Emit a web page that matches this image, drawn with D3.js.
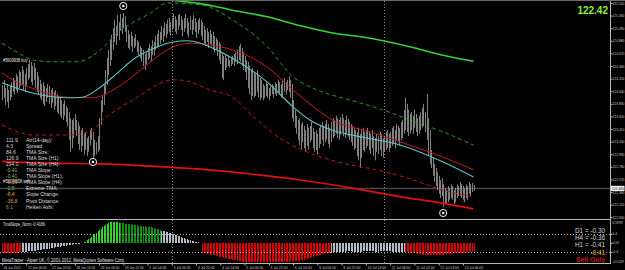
<!DOCTYPE html>
<html>
<head>
<meta charset="utf-8">
<script src="https://cdn.jsdelivr.net/npm/d3@7"></script>
<style>
html, body { margin: 0; padding: 0; background: #000; }
svg { display: block; }
text { font-family: "Liberation Sans", Arial, sans-serif; }
</style>
</head>
<body>
<svg id="chart" width="625" height="270"></svg>
<script>
"use strict"

// H1 bars, high / low per bar (26 Jun - 13 Jul 2012)
const barHigh = [
 124.14,124.23,124.09,124.16,124.06,124.13,124.19,124.26,124.23,124.33,
 124.29,124.39,124.36,124.46,124.39,124.33,124.43,124.49,124.56,124.53,
 124.46,124.51,124.43,124.36,124.29,124.23,124.16,124.19,124.13,124.09,
 124.16,124.13,124.06,124.09,124.03,124.06,123.99,123.96,123.93,123.89,
 123.83,123.89,123.79,123.76,123.69,123.59,123.56,123.59,123.66,123.56,
 123.53,123.46,123.39,123.43,123.33,123.36,123.26,123.29,123.39,123.43,
 123.36,123.23,123.19,123.29,123.59,123.89,123.98,124.14,124.39,124.59,
 124.73,124.89,124.98,125.09,125.23,125.13,125.31,125.19,125.33,125.26,
 125.34,125.29,125.14,125.06,124.99,125.03,124.96,124.93,124.99,124.89,
 124.86,124.79,124.76,124.73,124.66,124.69,124.76,124.83,124.79,124.89,
 124.86,124.96,124.99,125.06,125.03,125.13,125.09,125.19,125.16,125.23,
 125.26,125.19,125.26,125.33,125.29,125.23,125.31,125.33,125.29,125.23,
 125.26,125.33,125.26,125.19,125.29,125.23,125.31,125.26,125.19,125.23,
 125.26,125.23,125.19,125.13,125.06,125.09,125.03,125.06,124.99,125.03,
 124.96,124.93,124.89,124.86,124.83,124.69,124.63,124.66,124.59,124.63,
 124.56,124.59,124.63,124.66,124.69,124.73,124.79,124.83,124.76,124.69,
 124.63,124.56,124.53,124.46,124.39,124.43,124.36,124.33,124.39,124.29,
 124.26,124.23,124.16,124.13,124.19,124.16,124.09,124.13,124.16,124.13,
 124.19,124.16,124.23,124.19,124.16,124.23,124.26,124.19,124.23,124.29,
 124.23,124.16,123.89,123.73,123.63,123.56,123.59,123.49,123.53,123.46,
 123.39,123.49,123.43,123.46,123.53,123.43,123.36,123.39,123.33,123.43,
 123.46,123.53,123.46,123.49,123.56,123.49,123.43,123.53,123.59,123.56,
 123.63,123.59,123.56,123.61,123.66,123.59,123.56,123.63,123.58,123.53,
 123.49,123.46,123.43,123.39,123.36,123.43,123.33,123.39,123.43,123.36,
 123.39,123.43,123.36,123.33,123.39,123.29,123.26,123.33,123.29,123.36,
 123.33,123.26,123.29,123.36,123.39,123.33,123.36,123.43,123.46,123.39,
 123.49,123.46,123.43,123.53,123.56,123.73,123.93,123.83,123.73,123.66,
 123.69,123.63,123.73,123.66,123.59,123.63,123.69,123.76,123.83,123.69,
 123.99,123.59,123.39,123.06,122.93,122.83,122.76,122.69,122.63,122.56,
 122.59,122.49,122.43,122.39,122.46,122.43,122.49,122.46,122.39,122.43,
 122.49,122.46,122.53,122.49,122.46,122.43,122.49,122.46,122.53,122.49,
 122.51,122.48
]
const barLow = [
 123.89,123.93,123.81,123.86,123.76,123.89,123.94,124.03,123.98,124.06,
 124.01,124.09,124.13,124.16,124.06,124.03,124.13,124.23,124.26,124.19,
 124.14,124.23,124.09,124.03,123.98,123.93,123.89,123.83,123.79,123.86,
 123.93,123.83,123.76,123.84,123.73,123.79,123.69,123.66,123.63,123.59,
 123.56,123.63,123.53,123.46,123.23,123.03,123.09,123.26,123.39,123.29,
 123.16,123.06,123.03,123.13,122.98,123.06,122.96,123.03,123.14,123.23,
 122.93,122.96,122.99,123.03,123.06,123.48,123.69,123.81,123.98,124.14,
 124.31,124.46,124.56,124.73,124.86,124.81,124.96,124.89,125.06,124.99,
 125.09,125.03,124.86,124.76,124.73,124.79,124.69,124.76,124.79,124.69,
 124.64,124.59,124.53,124.46,124.39,124.49,124.56,124.59,124.53,124.64,
 124.63,124.73,124.76,124.79,124.83,124.89,124.86,124.96,124.93,124.99,
 125.03,124.96,125.06,125.09,125.03,124.99,125.06,125.13,125.06,124.96,
 125.03,125.09,124.99,124.94,125.06,124.98,125.06,125.03,124.93,124.99,
 125.06,124.96,124.89,124.83,124.79,124.86,124.76,124.83,124.79,124.73,
 124.69,124.73,124.63,124.56,124.49,124.26,124.23,124.39,124.43,124.46,
 124.43,124.46,124.49,124.46,124.53,124.49,124.56,124.53,124.46,124.39,
 124.36,124.23,124.09,123.99,123.89,123.96,123.93,123.96,124.03,123.93,
 123.89,123.93,123.89,123.93,123.96,123.93,123.89,123.96,123.99,123.93,
 123.99,123.96,124.03,123.99,123.93,123.96,124.03,123.98,124.06,124.03,
 123.93,123.59,123.53,123.43,123.33,123.23,123.14,123.06,123.19,123.09,
 123.03,123.13,123.06,123.19,123.23,123.09,123.03,123.06,122.98,123.09,
 123.16,123.23,123.13,123.19,123.23,123.16,123.09,123.19,123.26,123.29,
 123.33,123.26,123.23,123.31,123.36,123.29,123.26,123.33,123.28,123.23,
 123.19,123.13,123.06,123.09,122.96,122.89,122.76,122.93,123.06,123.03,
 123.09,123.13,123.06,122.99,123.09,122.96,122.89,123.03,122.99,123.06,
 122.96,122.93,123.03,123.06,123.09,123.03,123.09,123.13,123.16,123.09,
 123.23,123.19,123.13,123.23,123.26,123.33,123.39,123.36,123.29,123.33,
 123.39,123.33,123.43,123.36,123.29,123.33,123.39,123.43,123.46,123.36,
 123.23,122.96,122.83,122.76,122.63,122.53,122.46,122.39,122.33,122.26,
 122.29,122.11,122.16,122.16,122.19,122.23,122.26,122.23,122.16,122.19,
 122.26,122.29,122.29,122.26,122.23,122.19,122.26,122.23,122.33,122.29,
 122.36,122.38
]
const lastPrice = 122.42

// TMA bands, [bar index, price]
const upperH4 = [[100,125.66],[108,125.58],[118,125.54],[131,125.50],[152,125.39],[175,125.28],
  [197,125.13],[218,125.01],[241,124.93],[269,124.78],[291,124.64],[311,124.54]]
const lowerH4 = [[0,122.87],[32,122.84],[65,122.83],[98,122.79],[131,122.74],[164,122.66],
  [197,122.56],[230,122.43],[263,122.28],[289,122.18],[311,122.08]]
const upperH1 = [[0,124.84],[10,124.69],[20,124.56],[35,124.53],[49,124.53],[65,124.73],[76,125.01],
  [86,125.18],[98,125.34],[109,125.51],[131,125.48],[152,125.23],[175,124.78],[192,124.28],
  [208,124.06],[230,123.89],[251,123.73],[269,123.56],[291,123.36],[311,123.14]]
const midH1 = [[0,124.18],[20,124.01],[43,123.93],[53,123.94],[65,124.11],[76,124.34],[86,124.56],
  [98,124.73],[113,124.86],[122,124.88],[131,124.84],[137,124.78],[152,124.59],[175,124.19],
  [192,123.78],[203,123.56],[218,123.39],[241,123.26],[263,123.14],[291,122.86],[311,122.61]]
const midTma = [[0,124.34],[10,124.19],[20,124.09],[43,123.94],[60,123.93],[71,124.03],[86,124.28],
  [98,124.53],[113,124.78],[124,124.84],[137,124.81],[152,124.73],[175,124.44],[192,124.06],
  [208,123.73],[218,123.56],[243,123.36],[269,123.14],[291,122.94],[311,122.73]]
const lowerH1 = [[0,123.48],[20,123.31],[43,123.31],[60,123.39],[65,123.53],[75,123.72],[86,123.89],
  [113,124.23],[122,124.21],[137,124.06],[152,123.94],[166,123.61],[185,123.23],[203,123.01],
  [225,122.84],[247,122.73],[269,122.58],[291,122.39],[311,122.28]]

// fractal markers
const markerIdx = [80, 60, 291]
const markerPrice = [125.46, 122.86, 122.01]
const separatorIdx = [112, 252]

// TmaSlope_Norm histogram
const slope = [
 -0.44,-0.45,-0.46,-0.45,-0.46,-0.45,-0.44,-0.45,-0.44,-0.43,-0.43,-0.42,-0.42,
 -0.41,-0.40,-0.40,-0.39,-0.38,-0.37,-0.37,-0.36,-0.35,-0.34,-0.33,-0.32,-0.31,-0.30,-0.29,-0.28,
 -0.27,-0.26,-0.25,-0.24,-0.23,-0.22,-0.20,-0.19,-0.18,-0.17,-0.15,-0.14,-0.13,-0.12,-0.11,-0.10,
 -0.09,-0.08,-0.07,-0.06,-0.05,-0.04,-0.03,-0.02,-0.01,
 0.02,0.06,0.11,0.16,0.22,0.28,0.34,0.40,0.46,0.52,0.58,0.64,0.70,0.75,0.80,0.84,0.88,0.91,0.93,0.94,
 0.93,0.92,0.91,0.90,
 0.89,0.88,0.87,0.86,0.85,0.84,0.83,0.82,0.81,0.80,0.79,0.78,0.77,0.76,0.75,0.74,0.73,0.72,0.71,0.70,
 0.69,0.67,0.66,0.64,0.62,0.60,0.58,
 0.55,0.53,0.51,0.49,0.47,0.45,0.43,0.40,0.38,0.36,0.34,0.31,0.29,0.27,0.24,0.22,0.19,0.17,0.15,0.12,
 0.10,0.08,0.06,0.04,0.02,
 0.01,-0.02,
 -0.45,-0.46,-0.47,-0.49,-0.50,-0.52,-0.53,-0.55,-0.56,-0.58,-0.59,-0.61,-0.62,-0.64,-0.65,-0.67,
 -0.68,-0.70,-0.71,-0.73,-0.74,-0.76,-0.77,-0.79,-0.80,-0.82,-0.84,
 -0.85,-0.85,-0.86,-0.86,-0.85,-0.85,-0.84,-0.85,-0.86,-0.86,-0.85,-0.85,-0.84,-0.84,-0.85,-0.85,
 -0.86,-0.85,-0.85,-0.84,-0.84,-0.85,-0.85,-0.85,-0.84,-0.84,-0.83,-0.84,-0.84,-0.83,-0.83,-0.82,
 -0.83,-0.82,-0.81,-0.81,-0.80,-0.79,
 -0.78,-0.76,-0.74,-0.72,-0.70,-0.68,-0.66,-0.64,-0.62,-0.60,-0.58,-0.56,-0.54,-0.52,-0.50,-0.48,
 -0.47,-0.46,-0.45,-0.44,
 -0.43,-0.42,-0.42,-0.41,-0.41,-0.40,-0.40,-0.39,-0.39,-0.39,-0.38,-0.38,-0.38,-0.38,-0.39,-0.39,
 -0.39,-0.40,-0.40,-0.39,-0.39,-0.38,-0.38,-0.38,-0.37,-0.37,-0.38,-0.38,-0.38,-0.39,-0.39,-0.39,
 -0.38,-0.38,-0.38,-0.37,-0.37,-0.37,-0.38,-0.38,-0.39,-0.39,-0.39,-0.40,-0.40,-0.40,-0.40,-0.41,-0.41,
 -0.41,-0.42,-0.43,-0.44,-0.45,-0.46,-0.47,-0.48,-0.49,-0.50,-0.51,-0.52,-0.52,-0.53,-0.53,-0.54,
 -0.54,-0.54,-0.55,-0.55,-0.55,-0.54,-0.54,-0.53,-0.53,-0.52,-0.51,-0.50,-0.50,-0.49,-0.48,-0.47,
 -0.47,-0.46,-0.46,-0.45,-0.45,-0.44,-0.44,-0.43,-0.43,-0.42,-0.42,-0.42,-0.41,-0.41
]
// colour runs of the histogram: [bar count, state]
const slopeRuns = [[13,"sell"],[41,"flat"],[24,"buy"],[27,"buyWeak"],[27,"flat"],[85,"sell"],[49,"flat"],[46,"sell"]]
const slopeLevels = [0.4, -0.4]

const timeLabels = ["26 Jun 2012","27 Jun 06:00","27 Jun 22:00","28 Jun 14:00","29 Jun 06:00","29 Jun 22:00",
  "2 Jul 14:00","3 Jul 06:00","3 Jul 22:00","4 Jul 14:00","5 Jul 06:00","5 Jul 22:00","6 Jul 14:00",
  "9 Jul 06:00","9 Jul 22:00","10 Jul 14:00","11 Jul 06:00","11 Jul 22:00","12 Jul 14:00","13 Jul 06:00"]
const timeIdx = timeLabels.map((d, i) => i * 16)
const priceTicks = [121.94,122.15,122.36,122.57,122.78,122.99,123.20,123.41,123.62,123.83,
  124.04,124.25,124.46,124.67,124.88,125.09,125.30,125.51]

const infoValues = ["111.9","4.3","84.6","126.9","294.0","-0.41","-0.41","-0.36","-0.5","-8.4","-36.8","6.1"]
const infoLabels = ["Atr(14-day):","Spread:","TMA Size:","TMA Size (H1):","TMA Size (H4):","TMA Slope:",
  "TMA Slope (H1):","TMA Slope (H4):","Extreme TMA:","Slope Change:","Pivot Distance:","Heiken Ashi:"]
const infoColors = ["#d0d0d0","#d0d0d0","#d0d0d0","#d0d0d0","#d0d0d0","#8fbf60","#8fbf60","#d89a50",
  "#6fb04f","#e0a040","#d8a060","#6fb04f"]
const tfLabels = ["D1 = -0.30","H4 = -0.36","H1 = -0.41"]

// ---- layout ----
const W = 625, H = 270
const axisX = 610.5
const mainTop = 1, mainBottom = 219
const subTop = 220, subBottom = 263
const charW = 1.55   // squeezed width of the tiny terminal font

const svg = d3.select("#chart")
svg.append("rect").attr("width", W).attr("height", H).attr("fill", "#000")

const x = d3.scaleLinear().domain([0, 311]).range([2, 473.5])
const y = d3.scaleLinear().domain([121.94, 125.51]).range([217.2, 3])
const ys = d3.scaleLinear().domain([-0.85, 0.93]).range([262, 222])

svg.append("clipPath").attr("id", "mainClip")
  .append("rect").attr("x", 0).attr("y", mainTop).attr("width", axisX).attr("height", mainBottom - mainTop)
svg.append("clipPath").attr("id", "subClip")
  .append("rect").attr("x", 0).attr("y", subTop).attr("width", axisX).attr("height", subBottom - subTop)

const main = svg.append("g").attr("clip-path", "url(#mainClip)")
const sub = svg.append("g").attr("clip-path", "url(#subClip)")

// period separators
svg.append("g").selectAll("line").data(separatorIdx).enter().append("line")
  .attr("x1", d => Math.round(x(d)) + 0.5).attr("x2", d => Math.round(x(d)) + 0.5)
  .attr("y1", mainTop).attr("y2", subBottom)
  .attr("stroke", "#8a8a8a").attr("stroke-width", 1).attr("stroke-dasharray", "1,2")

// current price line
main.append("line")
  .attr("x1", 0).attr("x2", axisX)
  .attr("y1", y(lastPrice)).attr("y2", y(lastPrice))
  .attr("stroke", "#45454f").attr("stroke-width", 1.5)

// price bars
main.append("g").selectAll("line").data(barHigh).enter().append("line")
  .attr("x1", (d, i) => Math.round(x(i)) + 0.5)
  .attr("x2", (d, i) => Math.round(x(i)) + 0.5)
  .attr("y1", d => y(d))
  .attr("y2", (d, i) => y(barLow[i]))
  .attr("stroke", "#8e8e8e").attr("stroke-width", 0.9)

// TMA lines
const line = d3.line().x(d => x(d[0])).y(d => y(d[1])).curve(d3.curveMonotoneX)
const bands = [
  {data: lowerH1, color: "#b41818", width: 1, dash: "4,3"},
  {data: upperH1, color: "#1f9a1f", width: 1, dash: "4,3"},
  {data: midTma, color: "#c41c1c", width: 1, dash: null},
  {data: midH1, color: "#5cc4c4", width: 1.1, dash: null},
  {data: lowerH4, color: "#e01010", width: 1.7, dash: null},
  {data: upperH4, color: "#3ad23a", width: 1.6, dash: null}
]
main.append("g").selectAll("path").data(bands).enter().append("path")
  .attr("d", d => line(d.data))
  .attr("fill", "none")
  .attr("stroke", d => d.color)
  .attr("stroke-width", d => d.width)
  .attr("stroke-dasharray", d => d.dash)

// markers
const mk = main.append("g").selectAll("g").data(markerIdx).enter().append("g")
  .attr("transform", (d, i) => "translate(" + x(d) + "," + y(markerPrice[i]) + ")")
mk.append("circle").attr("r", 3.6).attr("fill", "#000").attr("stroke", "#f0f0f0").attr("stroke-width", 1)
mk.append("circle").attr("r", 1.3).attr("fill", "#f0f0f0")

// order labels
const orderTxt = [["#5609938 buy", 124.53], ["#5609938 sell", 122.51]]
main.append("g").selectAll("text").data(orderTxt).enter().append("text")
  .attr("x", 3).attr("y", d => y(d[1]))
  .attr("font-size", 4.6).attr("fill", "#e8e8e8")
  .attr("textLength", d => d[0].length * 2.05).attr("lengthAdjust", "spacingAndGlyphs")
  .text(d => d[0])

// info table
const info = svg.append("g")
info.selectAll(".v").data(infoValues).enter().append("text")
  .attr("class", "v").attr("x", 6).attr("y", (d, i) => 142 + i * 6.05)
  .attr("font-size", 5).attr("fill", (d, i) => infoColors[i]).text(d => d)
info.selectAll(".l").data(infoLabels).enter().append("text")
  .attr("class", "l").attr("x", 26).attr("y", (d, i) => 142 + i * 6.05)
  .attr("font-size", 5).attr("fill", "#dcdcdc").text(d => d)

// ---- sub window ----
let runColor = {sell: "#e00000", flat: "#b4bcc6", buy: "#2ad42a", buyWeak: "#138f13"}
let barState = []
slopeRuns.forEach(r => { for (let k = 0; k < r[0]; k++) barState.push(r[1]) })

sub.append("g").selectAll("rect").data(slope).enter().append("rect")
  .attr("x", (d, i) => Math.round(x(i)))
  .attr("width", 1)
  .attr("y", d => Math.min(ys(0), ys(d)))
  .attr("height", d => Math.abs(ys(d) - ys(0)))
  .attr("fill", (d, i) => runColor[barState[i]])
  .attr("shape-rendering", "crispEdges")

sub.append("g").selectAll("line").data(slopeLevels).enter().append("line")
  .attr("x1", 0).attr("x2", axisX)
  .attr("y1", d => Math.round(ys(d)) + 0.5).attr("y2", d => Math.round(ys(d)) + 0.5)
  .attr("stroke", "#b0b0b0").attr("stroke-dasharray", "1,2")

svg.append("text").attr("x", 3).attr("y", subTop + 6)
  .attr("font-size", 4.6).attr("fill", "#e0e0e0")
  .attr("textLength", 42).attr("lengthAdjust", "spacingAndGlyphs")
  .text("TmaSlope_Norm -0.4186")
svg.append("text").attr("x", 2).attr("y", subBottom - 1.5)
  .attr("font-size", 4.6).attr("fill", "#e0e0e0")
  .attr("textLength", 123).attr("lengthAdjust", "spacingAndGlyphs")
  .text("MetaTrader - Alpari UK, \u00a9 2001-2012, MetaQuotes Software Corp.")

const tf = svg.append("g")
tf.selectAll("text").data(tfLabels).enter().append("text")
  .attr("x", 605).attr("y", (d, i) => 232.5 + i * 7.2)
  .attr("text-anchor", "end").attr("font-size", 6.4).attr("fill", "#d4d4d4").text(d => d)
tf.append("text").attr("x", 605).attr("y", 254.5).attr("text-anchor", "end")
  .attr("font-size", 6.4).attr("fill", "#e8c020").text(slope[slope.length - 1].toFixed(2))
tf.append("text").attr("x", 605).attr("y", 262).attr("text-anchor", "end")
  .attr("font-size", 6.8).attr("font-weight", "bold").attr("fill", "#d01010").text("Sell Only")

// current price top right
svg.append("text").attr("x", 608).attr("y", 14).attr("text-anchor", "end")
  .attr("font-size", 10).attr("font-weight", "bold").attr("fill", "#8cf03c")
  .text(lastPrice.toFixed(2))

// ---- frames and axes ----
const frame = svg.append("g").attr("stroke", "#b8b8b8").attr("stroke-width", 1)
frame.append("line").attr("x1", 0).attr("x2", W).attr("y1", 0.5).attr("y2", 0.5).attr("stroke", "#6a6a6a")
frame.append("line").attr("x1", 0).attr("x2", axisX).attr("y1", mainBottom + 0.5).attr("y2", mainBottom + 0.5)
frame.append("line").attr("x1", 0).attr("x2", axisX).attr("y1", subBottom + 0.5).attr("y2", subBottom + 0.5)

const yAxis = d3.axisRight(y).tickValues(priceTicks).tickSize(2).tickFormat(d3.format(".3f"))
const gy = svg.append("g").attr("transform", "translate(" + axisX + ",0)").call(yAxis)
gy.select(".domain").attr("d", "M0," + mainTop + "V" + (subBottom + 1))

const subLabel = {"0.4": "0.4", "0": "0.00", "-0.4": "-0.4"}
const ysAxis = d3.axisRight(ys).tickValues([0.4, 0, -0.4]).tickSize(2).tickFormat(d => subLabel[String(d)])
const gs = svg.append("g").attr("transform", "translate(" + axisX + ",0)").call(ysAxis)
gs.select(".domain").remove()

const xAxis = d3.axisBottom(x).tickValues(timeIdx).tickSize(2).tickFormat((d, i) => timeLabels[i])
const gx = svg.append("g").attr("transform", "translate(0," + (subBottom + 0.5) + ")").call(xAxis)
gx.select(".domain").remove()
gx.selectAll("text").attr("text-anchor", "start").attr("dx", 1.2).attr("dy", 0).attr("y", 5.6)
  .attr("font-size", 4.4).attr("lengthAdjust", "spacingAndGlyphs")
  .each(function() { d3.select(this).attr("textLength", this.textContent.length * charW) })

svg.selectAll(".tick line").attr("stroke", "#b8b8b8")
svg.selectAll(".domain").attr("stroke", "#b8b8b8")
svg.selectAll(".tick text").attr("fill", "#c8c8c8")
  .attr("font-family", "'Liberation Sans', Arial, sans-serif")

// right scale labels: small enough to fit the 14 px margin
gy.selectAll(".tick text").attr("x", 2).attr("font-size", 3.3)
gs.selectAll(".tick text").attr("x", 2).attr("font-size", 3.3)

const edge = svg.append("g").attr("font-size", 3.3).attr("fill", "#c8c8c8")
  .attr("font-family", "'Liberation Sans', Arial, sans-serif")
edge.append("text").attr("x", axisX + 2).attr("y", subTop + 4).text("0.5999")
edge.append("text").attr("x", axisX + 2).attr("y", subBottom - 0.5).text("-0.5129")

// last price box on the axis
const box = svg.append("g").attr("transform", "translate(" + axisX + "," + y(lastPrice) + ")")
box.append("rect").attr("x", 0.5).attr("y", -2.6).attr("width", 13.5).attr("height", 5.2).attr("fill", "#f0f0f0")
box.append("text").attr("x", 1.5).attr("y", 1.3).attr("font-size", 3.3).attr("fill", "#000")
  .text(lastPrice.toFixed(3))
</script>
</body>
</html>
